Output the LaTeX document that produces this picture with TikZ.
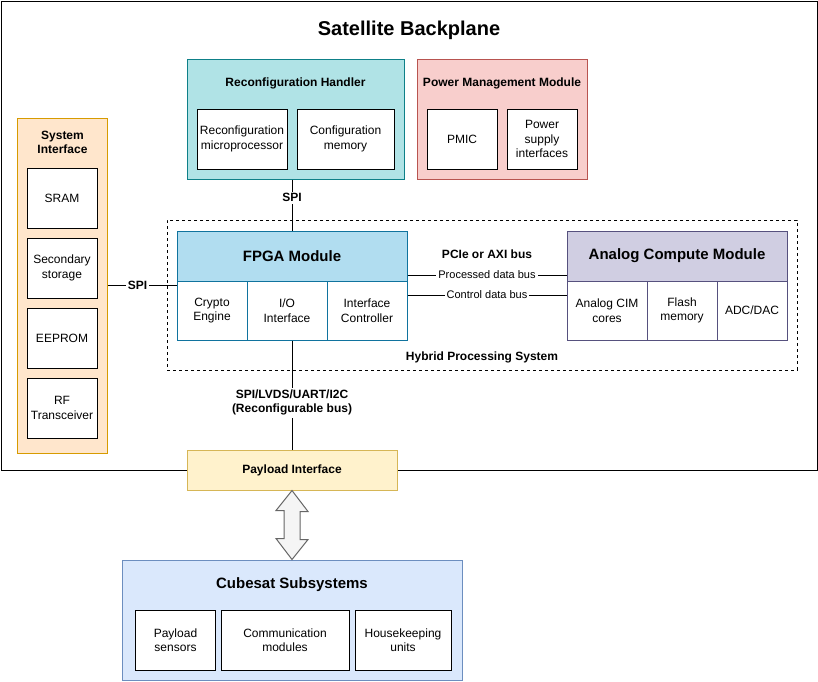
\documentclass[tikz,border=0pt]{standalone}
\usepackage{fontspec}
\setmainfont{Liberation Sans}
\usetikzlibrary{calc}

\definecolor{tealfill}{HTML}{B0E3E6}
\definecolor{tealline}{HTML}{0E8088}
\definecolor{redfill}{HTML}{F8CECC}
\definecolor{redline}{HTML}{B85450}
\definecolor{orangefill}{HTML}{FFE6CC}
\definecolor{orangeline}{HTML}{D79B00}
\definecolor{bluefill}{HTML}{B1DDF0}
\definecolor{blueline}{HTML}{10739E}
\definecolor{purplefill}{HTML}{D0CEE2}
\definecolor{purpleline}{HTML}{56517E}
\definecolor{yellowfill}{HTML}{FFF2CC}
\definecolor{yellowline}{HTML}{D6B656}
\definecolor{skyfill}{HTML}{DAE8FC}
\definecolor{skyline}{HTML}{6C8EBF}
\definecolor{arrowfill}{HTML}{F5F5F5}
\definecolor{arrowline}{HTML}{666666}

\begin{document}
\begin{tikzpicture}[x=1pt, y=-1pt, line width=1pt,
	frame/.style={draw, inner sep=0pt},
	cell/.style={draw, fill=white, inner sep=0pt, align=center, font=\fontsize{12}{14.5}\selectfont},
	head/.style={align=center, font=\bfseries\fontsize{12}{14.5}\selectfont},
	bighead/.style={font=\bfseries\fontsize{15}{18}\selectfont},
	buslabel/.style={fill=white, inner sep=2pt, font=\fontsize{11}{13}\selectfont}]
		\useasboundingbox (0,0) rectangle (818,681);
		
		% Backplane
		\node[frame, minimum width=816, minimum height=469] (backplane) at (409,235.5) {};
		\node[font=\bfseries\fontsize{20}{24}\selectfont] (title) at (409,30) {Satellite Backplane};
		
		% Reconfiguration handler
		\node[frame, fill=tealfill, draw=tealline, minimum width=217, minimum height=120] (recon) at (295.5,119) {};
		\node[head] (reconhead) at (295.5,83) {Reconfiguration Handler};
		\node[cell, minimum width=90, minimum height=60] (micro) at (242,139) {Reconfiguration\\microprocessor};
		\node[cell, minimum width=97, minimum height=60] (cfgmem) at (345.5,139) {Configuration\\memory};
		
		% Power management
		\node[frame, fill=redfill, draw=redline, minimum width=170, minimum height=120] (power) at (502,119) {};
		\node[head] (powerhead) at (502,83) {Power Management Module};
		\node[cell, minimum width=70, minimum height=60] (pmic) at (462,139) {PMIC};
		\node[cell, minimum width=70, minimum height=60] (supply) at (542,139) {Power\\supply\\interfaces};
		
		% System interface
		\node[frame, fill=orangefill, draw=orangeline, minimum width=90, minimum height=335] (sysint) at (62.5,285.5) {};
		\node[head] (sysinthead) at (62.5,142.5) {System\\Interface};
		\node[cell, minimum width=70, minimum height=60] (sram) at (62,198) {SRAM};
		\node[cell, minimum width=70, minimum height=60] (storage) at (62,268) {Secondary\\storage};
		\node[cell, minimum width=70, minimum height=60] (eeprom) at (62,338) {EEPROM};
		\node[cell, minimum width=70, minimum height=60] (rf) at (62,408) {RF\\Transceiver};
		
		% Hybrid processing system
		\node[frame, dashed, line width=0.8pt, minimum width=630, minimum height=150] (hybrid) at (482,295) {};
		\node[head] (hybridlabel) at (482,357) {Hybrid Processing System};
		
		% FPGA module
		\node[frame, draw=blueline, minimum width=230, minimum height=109] (fpga) at (292,285.5) {};
		\node[frame, fill=bluefill, draw=blueline, minimum width=230, minimum height=50, bighead] (fpgahead) at (292,256) {FPGA Module};
		\node[cell, draw=blueline, minimum width=70, minimum height=59] (crypto) at (212,310.5) {Crypto\\Engine};
		\node[cell, draw=blueline, minimum width=80, minimum height=59] (io) at (287,310.5) {I/O\\Interface};
		\node[cell, draw=blueline, minimum width=80, minimum height=59] (ifctrl) at (367,310.5) {Interface\\Controller};
		
		% Analog compute module
		\node[frame, draw=purpleline, minimum width=220, minimum height=109] (acm) at (677,285.5) {};
		\node[frame, fill=purplefill, draw=purpleline, minimum width=220, minimum height=50, bighead] (acmhead) at (677,256) {Analog Compute Module};
		\node[cell, draw=purpleline, minimum width=80, minimum height=59] (cim) at (607,310.5) {Analog CIM\\cores};
		\node[cell, draw=purpleline, minimum width=70, minimum height=59] (flash) at (682,310.5) {Flash\\memory};
		\node[cell, draw=purpleline, minimum width=70, minimum height=59] (adc) at (752,310.5) {ADC/DAC};
		
		% Buses
		\node[head] (buslabel) at (487,254) {PCIe or AXI bus};
		\draw (fpga.east |- 0,275) -- node[buslabel] {Processed data bus} (acm.west |- 0,275);
		\draw (fpga.east |- 0,295) -- node[buslabel] {Control data bus} (acm.west |- 0,295);
		\draw (fpga.north |- recon.south) -- node[head, fill=white, inner sep=2pt, pos=0.36] {SPI} (fpga.north);
		\draw (sysint.east |- fpga.west) -- node[head, fill=white, inner sep=2pt, pos=0.43] {SPI} (fpga.west);
		
		% Payload interface
		\node[frame, fill=yellowfill, draw=yellowline, minimum width=210, minimum height=40, head] (payload) at (292,470) {Payload Interface};
		\draw (fpga.south) -- node[head, fill=white, inner sep=2pt, pos=0.57] {SPI/LVDS/UART/I2C\\(Reconfigurable bus)} (payload.north);
		
		% Cubesat subsystems
		\node[frame, fill=skyfill, draw=skyline, minimum width=340, minimum height=120] (cubesat) at (292,620) {};
		\node[bighead] (cubesathead) at (292,585) {Cubesat Subsystems};
		\node[cell, minimum width=80, minimum height=60] (sensors) at (175.5,640) {Payload\\sensors};
		\node[cell, minimum width=128, minimum height=60] (comms) at (285,640) {Communication\\modules};
		\node[cell, minimum width=96, minimum height=60] (house) at (403,640) {Housekeeping\\units};
		
		% Double arrow
		\draw[fill=arrowfill, draw=arrowline, line join=miter] (payload.south) -- ++(16,21) -- ++(-8,0) -- ++(0,28) -- ++(8,0)
		-- (cubesat.north) -- ++(-16,-21) -- ++(8,0) -- ++(0,-28) -- ++(-8,0) -- cycle;
	\end{tikzpicture}
\end{document}
